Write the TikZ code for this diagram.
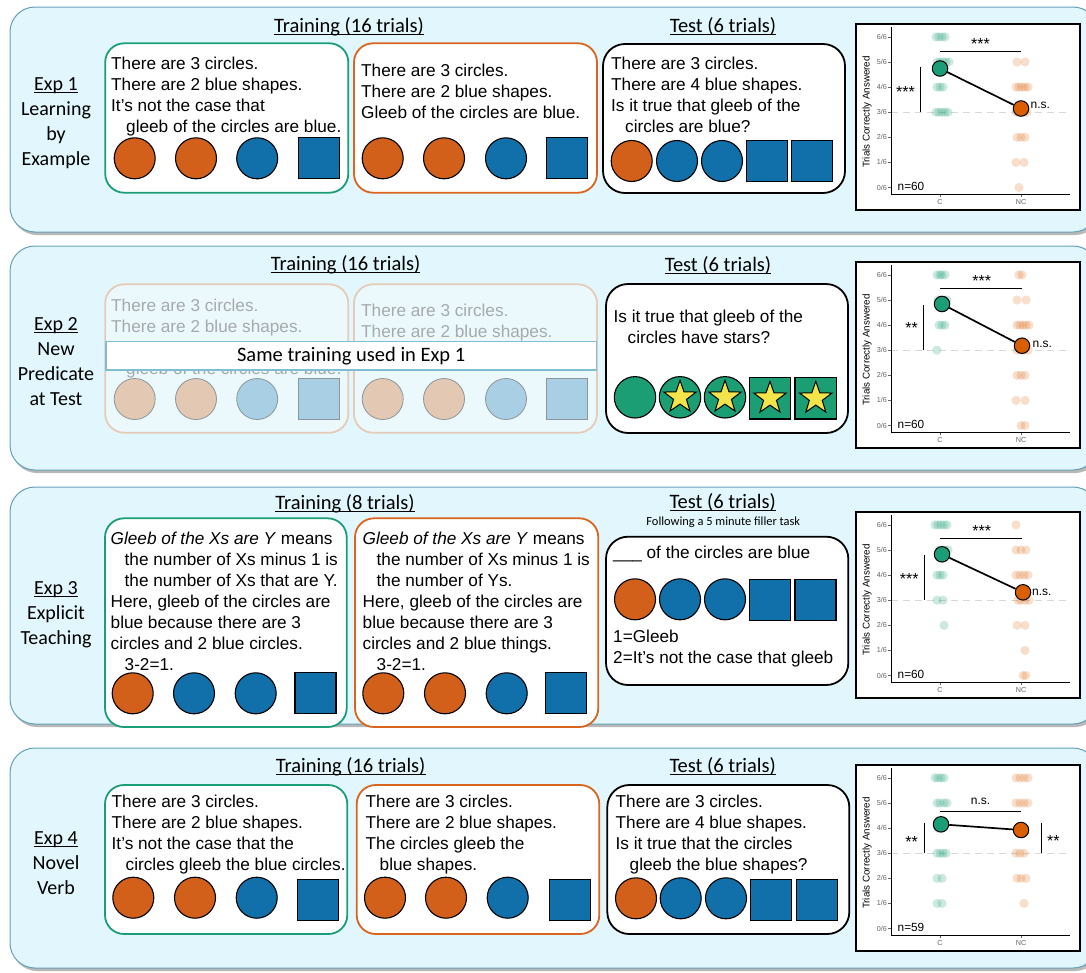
\documentclass[tikz,border=0pt]{standalone}
\usepackage{fontspec}
\setmainfont{Liberation Sans}
\newfontfamily\calib{Carlito}
\usetikzlibrary{shapes.geometric}
\definecolor{panelfill}{RGB}{225,247,253}
\definecolor{paneledge}{RGB}{100,160,185}
\definecolor{cgreen}{RGB}{27,158,119}
\definecolor{corange}{RGB}{217,101,30}
\definecolor{shor}{RGB}{210,96,27}
\definecolor{shbl}{RGB}{17,112,170}
\definecolor{shgr}{RGB}{27,158,115}
\definecolor{fador}{RGB}{227,200,180}
\definecolor{fadbl}{RGB}{168,207,227}
\definecolor{fadbox}{RGB}{230,203,183}
\definecolor{fadline}{RGB}{140,150,155}
\definecolor{fadtxt}{RGB}{165,170,172}
\definecolor{bannerb}{RGB}{125,190,212}
\definecolor{staryel}{RGB}{242,228,74}
\definecolor{mgreen}{RGB}{27,158,119}
\definecolor{morange}{RGB}{217,95,2}
\definecolor{tickc}{RGB}{100,100,100}
\newcommand{\ulc}[1]{\setbox0=\hbox{#1}\rlap{\rule[-2.6pt]{\wd0}{1pt}}\box0}
\newcommand{\oc}[2]{\draw[shp, fill=shor] (#1,#2) circle (20.5);}
\newcommand{\bc}[2]{\draw[shp, fill=shbl] (#1,#2) circle (20.5);}
\newcommand{\bsq}[2]{\draw[shp, fill=shbl] (#1-20.5,#2-20.5) rectangle (#1+20.5,#2+20.5);}
\newcommand{\foc}[2]{\draw[fshp, fill=fador] (#1,#2) circle (20.5);}
\newcommand{\fbc}[2]{\draw[fshp, fill=fadbl] (#1,#2) circle (20.5);}
\newcommand{\fbsq}[2]{\draw[fshp, fill=fadbl] (#1-20.5,#2-20.5) rectangle (#1+20.5,#2+20.5);}
\newcommand{\gdots}[2]{\foreach \d in {#2}{\fill[mgreen, opacity=0.22] ({84+\d},{163.5-25.1*#1}) circle (4.6);}}
\newcommand{\odots}[2]{\foreach \d in {#2}{\fill[morange, opacity=0.2] ({165+\d},{163.5-25.1*#1}) circle (4.6);}}
\newcommand{\chartbase}[2]{%
  \draw[line width=1.3pt, fill=white] (0,0) rectangle (224,186);
  \draw[gray!30, line width=1.3pt, dash pattern=on 7pt off 5pt] (35,88.2) -- (214,88.2);
  \foreach \k in {0,...,6}{%
    \draw[tickc, line width=0.6pt] (32,{163.5-25.1*\k}) -- (35,{163.5-25.1*\k});
    \node[ticklab, anchor=east] (#1t\k) at (31,{163.5-25.1*\k}) {\k/6};
  }
  \draw[tickc, line width=0.6pt] (84,170) -- (84,173);
  \draw[tickc, line width=0.6pt] (165,170) -- (165,173);
  \node[ticklab] (#1c) at (84,178.5) {C};
  \node[ticklab] (#1nc) at (165,178.5) {NC};
  \node[rotate=90, inner sep=0pt, font=\fontsize{9.8}{11}\selectfont] (#1y) at (11,88) {Trials Correctly Answered};
  \node[inner sep=0pt, font=\fontsize{11.8}{13}\selectfont] (#1n) at (55,162) {n=#2};
}
\newcommand{\chartaxes}{\draw[line width=1pt] (35,3) -- (35,170) -- (214,170);}
\begin{document}
\begin{tikzpicture}[x=1pt,y=-1pt,
  panel/.style={draw=paneledge, fill=panelfill, rounded corners=25pt, line width=1pt},
  pshadow/.style={fill=black!28, rounded corners=25pt},
  gbox/.style={draw=cgreen, line width=1.8pt, fill=white, rounded corners=19pt},
  obox/.style={draw=corange, line width=1.8pt, fill=white, rounded corners=19pt},
  tbox/.style={draw=black, line width=1.8pt, fill=white, rounded corners=22pt},
  fbox/.style={draw=fadbox, line width=1.8pt, fill=white, fill opacity=0.35, rounded corners=19pt},
  shp/.style={draw=black, line width=1.1pt},
  fshp/.style={draw=fadline, line width=0.8pt},
  txt/.style={font=\fontsize{17.2}{21}\selectfont, align=left, inner sep=0pt, anchor=north west},
  ftxt/.style={txt, text=fadtxt},
  head/.style={font=\calib\fontsize{20.5}{24}\selectfont, inner sep=0pt, anchor=base},
  lab/.style={font=\calib\fontsize{20}{25}\selectfont, align=center, inner sep=0pt, anchor=north},
  ticklab/.style={inner sep=0pt, text=tickc, font=\fontsize{7.2}{8}\selectfont},
  stars/.style={inner sep=0pt, font=\fontsize{16}{17}\selectfont, yshift=-3.4pt},
  sig/.style={inner sep=0pt, font=\fontsize{12}{13}\selectfont},
  gmean/.style={circle, draw=black, line width=1pt, fill=mgreen, minimum size=15.5pt, inner sep=0pt},
  omean/.style={circle, draw=black, line width=1pt, fill=morange, minimum size=15.5pt, inner sep=0pt},
  mline/.style={line width=1.7pt},
  brk/.style={line width=0.9pt},
  ystar/.style={star, star points=5, star point ratio=2.5, draw=black, line width=1pt, fill=staryel, minimum size=34pt, inner sep=0pt}
]
\useasboundingbox (0,0) rectangle (1086,972);
\fill[white] (0,0) rectangle (1086,972);
% panels
\foreach \t/\b in {7/232, 246/470, 487/724, 748/968}{
  \fill[pshadow] (12,\t+3) rectangle (1100,\b+3);
  \draw[panel] (10,\t) rectangle (1098,\b);
}
% ---------------- Exp 1 ----------------
\node[lab] (l1) at (56,77.5) {\ulc{Exp 1}\\Learning\\by\\Example};
\node[head] (h1a) at (349,32.2) {\ulc{Training (16 trials)}};
\node[head] (h1b) at (723,32.5) {\ulc{Test (6 trials)}};
\draw[gbox] (105.2,43.3) rectangle (348.3,192.7);
\draw[obox] (354,43.3) rectangle (597,192.7);
\draw[tbox] (603,44) rectangle (845,193);
\node[txt] (e1g) at (111,57.3) {There are 3 circles.\\There are 2 blue shapes.\\It’s not the case that\\\hspace*{15pt}gleeb of the circles are blue.};
\node[txt] (e1o) at (361,64) {There are 3 circles.\\There are 2 blue shapes.\\Gleeb of the circles are blue.};
\node[txt] (e1t) at (611,56.7) {There are 3 circles.\\There are 4 blue shapes.\\Is it true that gleeb of the\\\hspace*{14pt}circles are blue?};
\oc{134.7}{158.3}\oc{196}{158.3}\bc{257.2}{158.3}\bsq{319.2}{158.3}
\oc{382.7}{158.3}\oc{444}{158.3}\bc{506}{158.3}\bsq{567.3}{158.3}
\oc{631.7}{161}\bc{677}{161}\bc{722}{161}\bsq{767}{161}\bsq{812.2}{161}
% ---------------- Exp 2 ----------------
\node[lab] (l2) at (56,317) {\ulc{Exp 2}\\New\\Predicate\\at Test};
\node[head] (h2a) at (345.6,270.5) {\ulc{Training (16 trials)}};
\node[head] (h2b) at (718,271.5) {\ulc{Test (6 trials)}};
\draw[fbox] (105.2,284.3) rectangle (348.3,432.7);
\draw[fbox] (354,284.3) rectangle (597,432.7);
\node[ftxt] (e2g) at (111,299) {There are 3 circles.\\There are 2 blue shapes.};
\node[ftxt, anchor=base west] (e2g4) at (126,374.3) {gleeb of the circles are blue.};
\node[ftxt] (e2o) at (361,304) {There are 3 circles.\\There are 2 blue shapes.};
\foc{134.7}{399}\foc{196}{399}\fbc{257.2}{399}\fbsq{319.2}{399}
\foc{382.7}{399}\foc{444}{399}\fbc{506}{399}\fbsq{567.3}{399}
\node[draw=bannerb, line width=1.3pt, fill=white, minimum width=490.3pt, minimum height=28.3pt, inner sep=0pt, font=\calib\fontsize{20.5}{24}\selectfont] (ban) at (351.2,355.9) {Same training used in Exp 1};
\draw[tbox] (606,284) rectangle (848,433);
\node[txt] (e2t) at (613.5,309.5) {Is it true that gleeb of the\\\hspace*{14pt}circles have stars?};
\draw[shp, fill=shgr] (635,397.3) circle (20.7);
\draw[shp, fill=shgr] (680,397.3) circle (20.7);
\draw[shp, fill=shgr] (725,397.3) circle (20.7);
\draw[shp, fill=shgr] (749.3,377.7) rectangle (790.7,419);
\draw[shp, fill=shgr] (795,377.7) rectangle (836.7,419);
\node[ystar] (st1) at (680,397.3) {};
\node[ystar] (st2) at (725,397.3) {};
\node[ystar] (st3) at (770,398.3) {};
\node[ystar] (st4) at (815.8,398.3) {};
% ---------------- Exp 3 ----------------
\node[lab] (l3) at (56,581.6) {\ulc{Exp 3}\\Explicit\\Teaching};
\node[head] (h3a) at (345,509.5) {\ulc{Training (8 trials)}};
\node[head] (h3b) at (722.7,508.2) {\ulc{Test (6 trials)}};
\node[inner sep=0pt, font=\calib\fontsize{12.4}{14}\selectfont] (h3c) at (723.3,522.3) {Following a 5 minute filler task};
\draw[gbox] (105,518.3) rectangle (346.7,727);
\draw[obox] (355,518.3) rectangle (598.3,727);
\draw[tbox] (606,536.7) rectangle (848.3,685);
\node[txt] (e3g) at (110.5,532) {\textit{Gleeb of the Xs are Y} means\\\hspace*{14pt}the number of Xs minus 1 is\\\hspace*{14pt}the number of Xs that are Y.\\Here, gleeb of the circles are\\blue because there are 3\\circles and 2 blue circles.\\\hspace*{14pt}3-2=1.};
\node[txt] (e3o) at (362.5,532) {\textit{Gleeb of the Xs are Y} means\\\hspace*{14pt}the number of Xs minus 1 is\\\hspace*{14pt}the number of Ys.\\Here, gleeb of the circles are\\blue because there are 3\\circles and 2 blue things.\\\hspace*{14pt}3-2=1.};
\node[txt] (e3t) at (613,546) {\_\_\_ of the circles are blue};
\node[txt] (e3k) at (613,629.5) {1=Gleeb\\2=It’s not the case that gleeb};
\oc{132.7}{693.3}\bc{194}{693.3}\bc{255.7}{693.3}\bsq{315.5}{693}
\oc{383.3}{693.3}\oc{445}{693.3}\bc{506.7}{693.3}\bsq{566.3}{693}
\oc{635}{599.3}\bc{680}{599.3}\bc{725}{599.3}\bsq{770}{599.6}\bsq{815.5}{599.6}
% ---------------- Exp 4 ----------------
\node[lab] (l4) at (56,831.6) {\ulc{Exp 4}\\Novel\\Verb};
\node[head] (h4a) at (350.7,772.2) {\ulc{Training (16 trials)}};
\node[head] (h4b) at (722.7,772.2) {\ulc{Test (6 trials)}};
\draw[gbox] (105,785) rectangle (347.3,934);
\draw[obox] (356.7,785) rectangle (599.3,934);
\draw[tbox] (607.3,785) rectangle (849.3,934);
\node[txt] (e4g) at (111.5,795) {There are 3 circles.\\There are 2 blue shapes.\\It’s not the case that the\\\hspace*{14pt}circles gleeb the blue circles.};
\node[txt] (e4o) at (365.5,795) {There are 3 circles.\\There are 2 blue shapes.\\The circles gleeb the\\\hspace*{14pt}blue shapes.};
\node[txt] (e4t) at (615.5,795) {There are 3 circles.\\There are 4 blue shapes.\\Is it true that the circles\\\hspace*{14pt}gleeb the blue shapes?};
\oc{133.3}{897.7}\oc{195}{897.7}\bc{256.7}{897.7}\bsq{318}{900}
\oc{385}{897.7}\oc{446}{897.7}\bc{507.7}{897.7}\bsq{569.7}{900}
\oc{636}{898.3}\bc{680.7}{898.3}\bc{726}{898.3}\bsq{771.3}{899.7}\bsq{817}{899.7}
% ---------------- Chart 1 ----------------
\begin{scope}[shift={(856,24)}]
\chartbase{a}{60}
\gdots{6}{-4,-1,2,5}\gdots{5}{-3,0,3,6,9}\gdots{4}{-3,0,3}\gdots{3}{-4,-1,2,5,8}
\odots{5}{-4,4}\odots{4}{-5,-2,1,4,7}\odots{3}{-5,-1,3,6}\odots{2}{-4,0,4}\odots{1}{-5,3}\odots{0}{-2}
\chartaxes
\draw[brk] (84,27.7) -- (165,27.7);
\node[stars] (a-s1) at (124.5,16.5) {***};
\draw[brk] (64.5,43) -- (64.5,88.2);
\node[stars] (a-s2) at (49.5,65) {***};
\node[gmean] (a-mg) at (84,44.5) {};
\node[omean] (a-mo) at (165,84.5) {};
\draw[mline] (a-mg) -- (a-mo);
\node[sig, anchor=west] (a-ns) at (174.5,81) {n.s.};
\end{scope}
% ---------------- Chart 2 ----------------
\begin{scope}[shift={(856,262)}]
\chartbase{b}{60}
\gdots{6}{-3,0,2,5}\gdots{5}{-2,1,4,7}\gdots{4}{-1,2,5}\gdots{3}{-3}
\odots{6}{-2,1}\odots{5}{-4,5}\odots{4}{-4,-1,2,5,8}\odots{3}{-4,0,3,7}\odots{2}{-4,0,4}\odots{1}{-5,4}\odots{0}{0,4}
\chartaxes
\draw[brk] (84,26.3) -- (166,26.3);
\node[stars] (b-s1) at (125.7,15.7) {***};
\draw[brk] (67.3,43) -- (67.3,88.2);
\node[stars] (b-s2) at (55.7,63) {**};
\node[gmean] (b-mg) at (86,42) {};
\node[omean] (b-mo) at (166,83.7) {};
\draw[mline] (b-mg) -- (b-mo);
\node[sig, anchor=west] (b-ns) at (176.5,82.3) {n.s.};
\end{scope}
% ---------------- Chart 3 ----------------
\begin{scope}[shift={(856,512)}]
\chartbase{c}{60}
\gdots{6}{-5,-2,1,4,7}\gdots{5}{-1,2,5,8}\gdots{4}{-3,0,3}\gdots{3}{-3,3}\gdots{2}{4}
\odots{6}{-5}\odots{5}{-5,0,5}\odots{4}{-5,-1,3,7}\odots{3}{-3,0,4,8}\odots{2}{-4,4}\odots{1}{4}\odots{0}{2,5}
\chartaxes
\draw[brk] (84,26.3) -- (166,26.3);
\node[stars] (c-s1) at (125.7,15.7) {***};
\draw[brk] (68,43) -- (68,88.2);
\node[stars] (c-s2) at (53.3,63.7) {***};
\node[gmean] (c-mg) at (86,42.3) {};
\node[omean] (c-mo) at (167,80.3) {};
\draw[mline] (c-mg) -- (c-mo);
\node[sig, anchor=west] (c-ns) at (176,80.3) {n.s.};
\end{scope}
% ---------------- Chart 4 ----------------
\begin{scope}[shift={(856,765)}]
\chartbase{d}{59}
\gdots{6}{-5,-2,1,4}\gdots{5}{-3,0,4,7}\gdots{4}{-2,2}\gdots{3}{-3,0,3,6}\gdots{2}{-3,2}\gdots{1}{-3,2}
\odots{6}{-5,-1,3,7}\odots{5}{-5,-1,3,7}\odots{4}{-2,2}\odots{3}{-5,-1,3}\odots{2}{-4,0,5}\odots{1}{3}
\chartaxes
\draw[brk] (84,46.7) -- (165,46.7);
\node[sig] (d-ns) at (124.5,36.7) {n.s.};
\draw[brk] (68,58.3) -- (68,87.7);
\node[stars] (d-s1) at (55.7,73.3) {**};
\draw[brk] (185,58.3) -- (185,87.7);
\node[stars] (d-s2) at (197.3,72.3) {**};
\node[gmean] (d-mg) at (85,59.3) {};
\node[omean] (d-mo) at (165,65) {};
\draw[mline] (d-mg) -- (d-mo);
\end{scope}
\end{tikzpicture}
\end{document}
